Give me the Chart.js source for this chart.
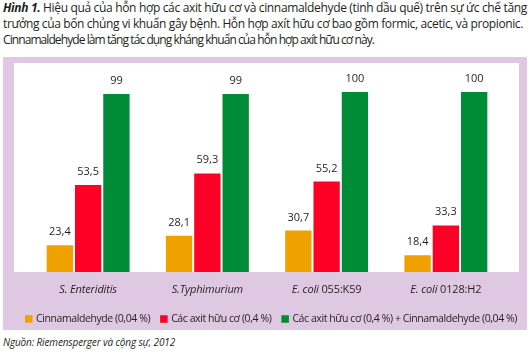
<!DOCTYPE html>
<html>
<head>
<meta charset="utf-8">
<script src="https://cdn.jsdelivr.net/npm/chart.js@4"></script>
<style>
  html, body { margin: 0; padding: 0; background: #ffffff; }
  body { width: 532px; height: 355px; position: relative; overflow: hidden; font-family: "Open Sans", sans-serif; color: #231f20; }
  #title { position: absolute; left: 3px; top: 0px; font-size: 12px; line-height: 15.8px; white-space: nowrap; }
  #title div { display: block; }
  #source { position: absolute; left: 3px; top: 335px; font-size: 10px; font-style: italic; white-space: nowrap; }
  #chartbox { position: absolute; left: 3px; top: 57px; width: 524px; height: 273px; background: #dfc8e1; }
</style>
</head>
<body>
<div id="title">
  <div id="t1"><b><i>Hình 1.</i></b> Hiệu quả của hỗn hợp các axit hữu cơ và cinnamaldehyde (tinh dầu quế) trên sự ức chế tăng</div>
  <div id="t2">trưởng của bốn chủng vi khuẩn gây bệnh. Hỗn hợp axít hữu cơ bao gồm formic, acetic, và propionic.</div>
  <div id="t3">Cinnamaldehyde làm tăng tác dụng kháng khuẩn của hỗn hợp axít hữu cơ này.</div>
</div>
<div id="chartbox"><canvas id="c" width="524" height="273"></canvas></div>
<div id="source">Nguồn: Riemensperger và cộng sự, 2012</div>
<script>
// ---- data ----
const categories = ['S. Enteriditis', 'S.Typhimurium', 'E. coli 055:K59', 'E. coli 0128:H2'];
const categoryItalicPart = ['S. Enteriditis', 'S.Typhimurium', 'E. coli', 'E. coli'];
const seriesLabels = ['Cinnamaldehyde (0,04 %)', 'Các axit hữu cơ (0,4 %)', 'Các axit hữu cơ (0,4 %) + Cinnamaldehyde (0,04 %)'];
const cinnamaldehyde = [23.4, 28.1, 30.7, 18.4];
const organicAcids = [53.5, 59.3, 55.2, 33.3];
const combined = [99, 99, 100, 100];
const seriesColors = ['#efa100', '#fd0025', '#008b37'];

// fit text lines to the reference widths
function fitWidth(el, target) {
  el.style.display = 'inline-block';
  const w = el.getBoundingClientRect().width;
  const n = el.textContent.length;
  el.style.letterSpacing = ((target - w) / n) + 'px';
  el.style.display = el.tagName === 'DIV' && el.id !== 'source' ? 'block' : '';
}
fitWidth(document.getElementById('t1'), 524);
fitWidth(document.getElementById('t2'), 520);
fitWidth(document.getElementById('t3'), 371);
(function(){ const s = document.getElementById('source'); const w = s.getBoundingClientRect().width; s.style.letterSpacing = ((172 - w) / s.textContent.length) + 'px'; })();

const fmt = v => String(v).replace('.', ',');
const FONT = '"Open Sans", sans-serif';

const decorPlugin = {
  id: 'decor',
  beforeDraw(chart) {
    const ctx = chart.ctx, a = chart.chartArea;
    ctx.save();
    ctx.fillStyle = '#ffffff';
    ctx.fillRect(a.left - 14.5, a.top, (a.right - a.left) + 28, a.bottom - a.top);
    ctx.restore();
  },
  afterDatasetsDraw(chart) {
    const ctx = chart.ctx, a = chart.chartArea;
    ctx.save();
    // value labels
    ctx.fillStyle = '#231f20';
    ctx.font = '11px ' + FONT;
    ctx.textAlign = 'center';
    ctx.textBaseline = 'alphabetic';
    chart.data.datasets.forEach((ds, i) => {
      chart.getDatasetMeta(i).data.forEach((bar, j) => {
        ctx.fillText(fmt(ds.data[j]), bar.x, bar.y - 10);
      });
    });
    // category labels with italic species part
    const xs = chart.scales.x;
    const ly = a.bottom + 21;
    ctx.textAlign = 'left';
    ctx.letterSpacing = '-0.15px';
    categories.forEach((cat, i) => {
      const it = categoryItalicPart[i];
      const rest = cat.slice(it.length);
      ctx.font = 'italic 11px ' + FONT;
      const w1 = ctx.measureText(it).width;
      ctx.font = '11px ' + FONT;
      const w2 = ctx.measureText(rest).width;
      const x0 = xs.getPixelForValue(i) - (w1 + w2) / 2;
      ctx.font = 'italic 11px ' + FONT;
      ctx.fillText(it, x0, ly);
      ctx.font = '11px ' + FONT;
      ctx.fillText(rest, x0 + w1, ly);
    });
    // legend
    ctx.font = '10.5px ' + FONT;
    const box = 7.5, gapBT = 3.5, gapItem = 10;
    const target = 492;
    ctx.letterSpacing = '0px';
    let widths = seriesLabels.map(t => ctx.measureText(t).width);
    const nChars = seriesLabels.reduce((s, t) => s + t.length, 0);
    const fixed = seriesLabels.length * (box + gapBT) + gapItem * (seriesLabels.length - 1);
    const ls = (target - fixed - widths.reduce((s, w) => s + w, 0)) / nChars;
    ctx.letterSpacing = ls + 'px';
    widths = seriesLabels.map(t => ctx.measureText(t).width);
    const total = widths.reduce((s, w) => s + w, 0) + fixed;
    let x = (a.left + a.right) / 2 - total / 2 + 4;
    const cy = a.bottom + 47;
    ctx.textBaseline = 'middle';
    seriesLabels.forEach((t, i) => {
      ctx.fillStyle = seriesColors[i];
      ctx.fillRect(x, cy - box / 2, box, box);
      x += box + gapBT;
      ctx.fillStyle = '#231f20';
      ctx.fillText(t, x, cy);
      x += widths[i] + gapItem;
    });
    ctx.restore();
  }
};

new Chart(document.getElementById('c'), {
  type: 'bar',
  data: {
    labels: categories,
    datasets: [
      { label: seriesLabels[0], data: cinnamaldehyde, backgroundColor: seriesColors[0] },
      { label: seriesLabels[1], data: organicAcids, backgroundColor: seriesColors[1] },
      { label: seriesLabels[2], data: combined, backgroundColor: seriesColors[2] }
    ]
  },
  options: {
    responsive: false,
    animation: false,
    devicePixelRatio: 1,
    layout: { padding: { left: 25.5, right: 21.5, top: 6, bottom: 58 } },
    datasets: { bar: { categoryPercentage: 0.712, barPercentage: 0.93 } },
    scales: {
      x: { display: false },
      y: { display: false, min: 10, max: 114.5 }
    },
    plugins: { legend: { display: false }, tooltip: { enabled: false } }
  },
  plugins: [decorPlugin]
});
</script>
</body>
</html>
